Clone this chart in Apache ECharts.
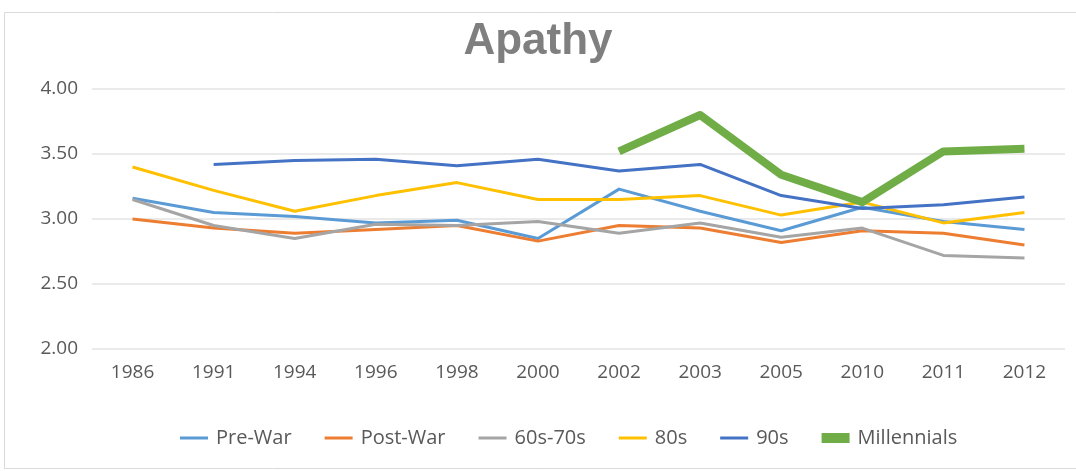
<!DOCTYPE html>
<html><head><meta charset="utf-8">
<script src="https://cdn.jsdelivr.net/npm/echarts@6/dist/echarts.min.js"></script>
<style>html,body{margin:0;padding:0;background:#fff;}#c{width:1076px;height:471px;}</style>
</head><body><div id="c"></div>
<script>
const categories = ['1986','1991','1994','1996','1998','2000','2002','2003','2005','2010','2011','2012'];
const preWar      = [3.16, 3.05, 3.02, 2.97, 2.99, 2.85, 3.23, 3.06, 2.91, 3.09, 2.98, 2.92];
const postWar     = [3.00, 2.93, 2.89, 2.92, 2.95, 2.83, 2.95, 2.93, 2.82, 2.91, 2.89, 2.80];
const sixtiesSeventies = [3.15, 2.95, 2.85, 2.96, 2.95, 2.98, 2.89, 2.97, 2.86, 2.93, 2.72, 2.70];
const eighties    = [3.40, 3.22, 3.06, 3.18, 3.28, 3.15, 3.15, 3.18, 3.03, 3.13, 2.97, 3.05];
const nineties    = [null, 3.42, 3.45, 3.46, 3.41, 3.46, 3.37, 3.42, 3.18, 3.08, 3.11, 3.17];
const millennials = [null, null, null, null, null, null, 3.52, 3.80, 3.34, 3.13, 3.52, 3.54];
const yTicks = [2.0, 2.5, 3.0, 3.5, 4.0];
const seriesNames = ['Pre-War', 'Post-War', '60s-70s', '80s', '90s', 'Millennials'];

const font = "'Open Sans', sans-serif";
const lineIcon = 'path://M0,0h28v3h-28z';
const boxIcon = 'path://M0,0h28v10h-28z';
function mk(name, data, color, width) {
  return { name, type: 'line', data, symbol: 'none', showSymbol: false, connectNulls: false,
    lineStyle: { color, width, join: 'round' }, itemStyle: { color } };
}
const chart = echarts.init(document.getElementById('c'), null, { renderer: 'canvas' });
chart.setOption({
  animation: false,
  backgroundColor: '#fff',
  graphic: [
    { type: 'rect', shape: { x: 4.5, y: 12.5, width: 1080, height: 456 },
      style: { fill: 'none', stroke: '#d9d9d9', lineWidth: 1 }, silent: true }
  ],
  title: { text: 'Apathy', left: 'center', top: 15,
    textStyle: { fontFamily: "'Liberation Sans', Arial, sans-serif", fontSize: 44, fontWeight: 'bold', color: '#7f7f7f' } },
  grid: { left: 92, right: 11, top: 89, bottom: 122, containLabel: false },
  xAxis: { type: 'category', data: categories, boundaryGap: true,
    axisLine: { show: false }, axisTick: { show: false },
    axisLabel: { fontFamily: font, fontSize: 19, color: '#595959', margin: 14 } },
  yAxis: { type: 'value', min: yTicks[0], max: yTicks[yTicks.length - 1], interval: 0.5,
    axisLine: { show: false }, axisTick: { show: false },
    splitLine: { lineStyle: { color: '#e3e3e3', width: 1.5 } },
    axisLabel: { fontFamily: font, fontSize: 19, color: '#595959', margin: 14,
      formatter: v => v.toFixed(2) } },
  legend: { bottom: 18, left: 175, itemWidth: 28, itemHeight: 10, itemGap: 33,
    textStyle: { fontFamily: font, fontSize: 20, color: '#595959', padding: [0, 0, 0, 3] },
    data: seriesNames.map((n, i) => ({ name: n, icon: i === 5 ? boxIcon : lineIcon })) },
  series: [
    mk(seriesNames[0], preWar, '#5B9BD5', 3),
    mk(seriesNames[1], postWar, '#ED7D31', 3),
    mk(seriesNames[2], sixtiesSeventies, '#A5A5A5', 3),
    mk(seriesNames[3], eighties, '#FFC000', 3),
    mk(seriesNames[4], nineties, '#4472C4', 3),
    mk(seriesNames[5], millennials, '#70AD47', 8)
  ]
});
</script></body></html>
